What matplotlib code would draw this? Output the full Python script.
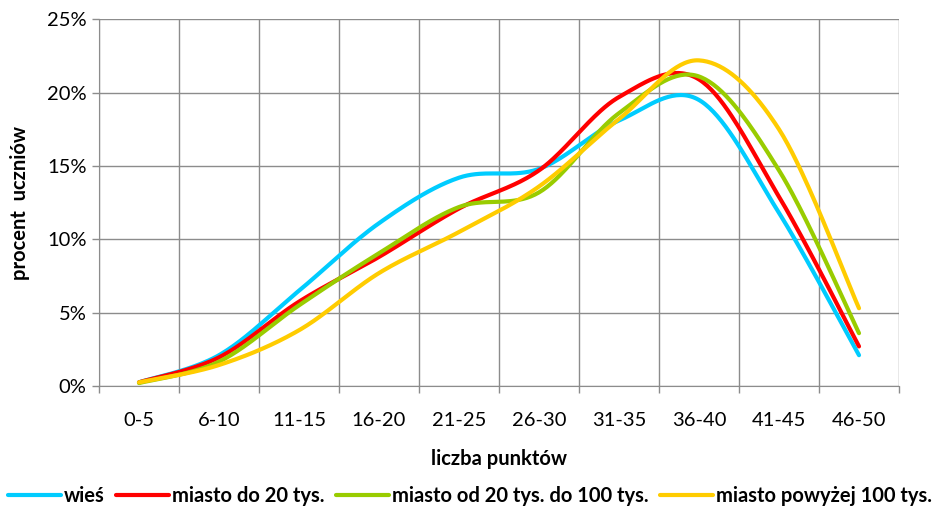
import numpy as np
import matplotlib
matplotlib.use("Agg")
import matplotlib.pyplot as plt
from matplotlib.ticker import FuncFormatter, FixedLocator

categories = ["0-5", "6-10", "11-15", "16-20", "21-25", "26-30",
              "31-35", "36-40", "41-45", "46-50"]
wies = [0.25, 2.1, 6.5, 11.1, 14.2, 14.8, 18.1, 19.5, 11.8, 2.1]
miasto_do_20 = [0.25, 1.95, 5.75, 8.8, 12.1, 14.7, 19.7, 20.9, 12.9, 2.7]
miasto_20_100 = [0.2, 1.66, 5.5, 9.05, 12.2, 13.2, 18.6, 21.1, 14.7, 3.6]
miasto_pow_100 = [0.25, 1.43, 3.8, 7.7, 10.5, 13.6, 18.2, 22.2, 17.5, 5.3]
series_names = ["wieś", "miasto do 20 tys.", "miasto od 20 tys. do 100 tys.",
                "miasto powyżej 100 tys."]
y_ticks = [0, 5, 10, 15, 20, 25]

colors = ["#00CCFF", "#FF0000", "#99CC00", "#FFCC00"]

FONT = ["Lato", "DejaVu Sans"]
plt.rcParams["font.family"] = FONT


def smooth(xs, ys, n=40):
    xs = np.asarray(xs, float)
    ys = np.asarray(ys, float)
    P = np.column_stack([xs, ys])
    P = np.vstack([P[0], P, P[-1]])
    out = []
    for i in range(1, len(P) - 2):
        p0, p1, p2, p3 = P[i - 1], P[i], P[i + 1], P[i + 2]
        c1 = p1 + (p2 - p0) / 6.0
        c2 = p2 - (p3 - p1) / 6.0
        t = np.linspace(0, 1, n)[:, None]
        b = ((1 - t) ** 3) * p1 + 3 * ((1 - t) ** 2) * t * c1 + \
            3 * (1 - t) * t ** 2 * c2 + t ** 3 * p2
        out.append(b if i == 1 else b[1:])
    out = np.vstack(out)
    return out[:, 0], out[:, 1]


fig = plt.figure(figsize=(9.4, 5.08), dpi=100)
ax = fig.add_axes([99 / 940, 1 - 386 / 508, 800 / 940, (386 - 19.3) / 508])

x = np.arange(len(categories))
data = [wies, miasto_do_20, miasto_20_100, miasto_pow_100]
for vals, c, name in zip(data, colors, series_names):
    sx, sy = smooth(x, vals)
    ax.plot(sx, sy, color=c, lw=3.0, solid_capstyle="round", label=name,
            zorder=3)

ax.set_xlim(-0.5, len(categories) - 0.5)
ax.set_ylim(0, 25)
ax.set_yticks(y_ticks)
ax.yaxis.set_major_formatter(FuncFormatter(lambda v, p: f"{v:.0f}%"))
ax.set_xticks(x)
ax.set_xticklabels(categories)
ax.xaxis.set_minor_locator(FixedLocator(np.arange(-0.5, len(categories), 1.0)))

grid_c = "#8C8C8C"
ax.grid(True, axis="y", which="major", color=grid_c, lw=1.0, zorder=0)
ax.grid(True, axis="x", which="minor", color=grid_c, lw=1.0, zorder=0)
ax.grid(False, axis="x", which="major")

for s in ["top", "right"]:
    ax.spines[s].set_visible(False)
ax.spines["left"].set_color(grid_c)
ax.spines["bottom"].set_color(grid_c)
ax.tick_params(axis="x", which="major", length=0, pad=19, labelsize=14.5,
               colors="black")
ax.tick_params(axis="x", which="minor", length=5, color=grid_c, width=1)
ax.tick_params(axis="y", length=5, color=grid_c, width=1, labelsize=14.5, pad=4)

ax.set_xlabel("liczba punktów", fontsize=14.5, fontweight="bold", labelpad=14)
ax.set_ylabel("procent  uczniów", fontsize=14.5, fontweight="bold", labelpad=12)

leg = fig.legend(loc="lower center", bbox_to_anchor=(0.5, -0.012), ncol=4,
                 frameon=False, prop={"weight": "bold", "size": 14.5},
                 handlelength=2.6, handletextpad=0.15, columnspacing=0.6,
                 borderaxespad=0.0)
for line in leg.get_lines():
    line.set_linewidth(3.0)

fig.savefig("out.png", dpi=100)
